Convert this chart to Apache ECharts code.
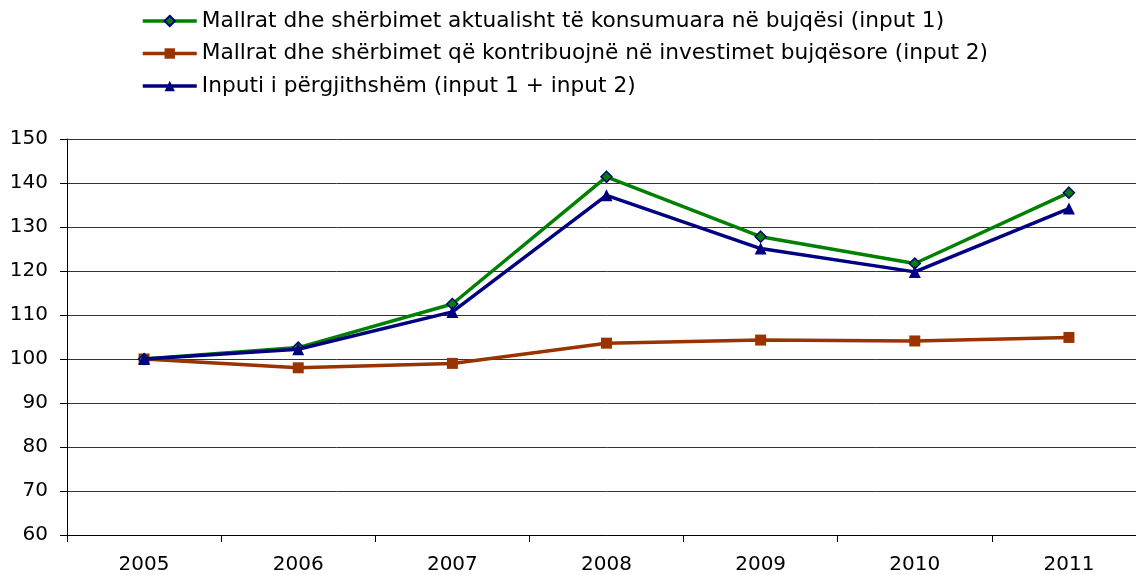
<!DOCTYPE html>
<html><head><meta charset="utf-8">
<script src="https://cdn.jsdelivr.net/npm/echarts@6/dist/echarts.min.js"></script>
<style>html,body{margin:0;padding:0;background:#fff;overflow:hidden}#c{width:1146px;height:575px}</style>
</head><body><div id="c"></div>
<script>
var years = ['2005','2006','2007','2008','2009','2010','2011'];
var input1 = [100, 102.6, 112.5, 141.4, 127.8, 121.7, 137.8];
var input2 = [100, 98.0, 99.0, 103.6, 104.3, 104.1, 104.9];
var total = [100, 102.2, 110.7, 137.2, 125.1, 119.8, 134.2];
var names = [
  'Mallrat dhe shërbimet aktualisht të konsumuara në bujqësi (input 1)',
  'Mallrat dhe shërbimet që kontribuojnë në investimet bujqësore (input 2)',
  'Inputi i përgjithshëm (input 1 + input 2)'
];
var chart = echarts.init(document.getElementById('c'), null, {renderer:'canvas', width: 1146, height: 575});
var font = '"DejaVu Sans", sans-serif';
chart.setOption({
  animation: false,
  textStyle: {fontFamily: font},
  legend: {
    orient: 'vertical', left: 136, top: 5, itemWidth: 54, itemHeight: 13, itemGap: 10.5,
    lineStyle: {width: 3.5},
    textStyle: {fontSize: 21.7, color: '#000', fontFamily: font},
    data: names
  },
  grid: {left: 67, right: 0, top: 139, height: 397, containLabel: false},
  xAxis: {
    type: 'category', data: years, boundaryGap: true,
    axisLine: {lineStyle: {color: '#000', width: 1}},
    axisTick: {show: true, length: 7, lineStyle: {color: '#000'}},
    axisLabel: {fontSize: 20, color: '#000', margin: 20, fontFamily: font},
    splitLine: {show: false}
  },
  yAxis: {
    type: 'value', min: 60, max: 150, interval: 10,
    axisLine: {show: true, lineStyle: {color: '#000', width: 1}},
    axisTick: {show: true, length: 7, lineStyle: {color: '#000'}},
    axisLabel: {fontSize: 20, color: '#000', margin: 19, fontFamily: font},
    splitLine: {show: true, lineStyle: {color: '#333', width: 1}}
  },
  series: [
    {name: names[0], type: 'line', data: input1, symbol: 'diamond', symbolSize: 11,
     lineStyle: {color: '#008000', width: 3.5}, itemStyle: {color: '#008000', borderColor: '#000080', borderWidth: 1.5}, z: 3},
    {name: names[1], type: 'line', data: input2, symbol: 'rect', symbolSize: 11,
     lineStyle: {color: '#993300', width: 3.5}, itemStyle: {color: '#993300', borderWidth: 0}, z: 2},
    {name: names[2], type: 'line', data: total, symbol: 'triangle', symbolSize: 12,
     lineStyle: {color: '#000080', width: 3.5}, itemStyle: {color: '#000080', borderWidth: 0}, z: 4}
  ]
});
</script></body></html>
